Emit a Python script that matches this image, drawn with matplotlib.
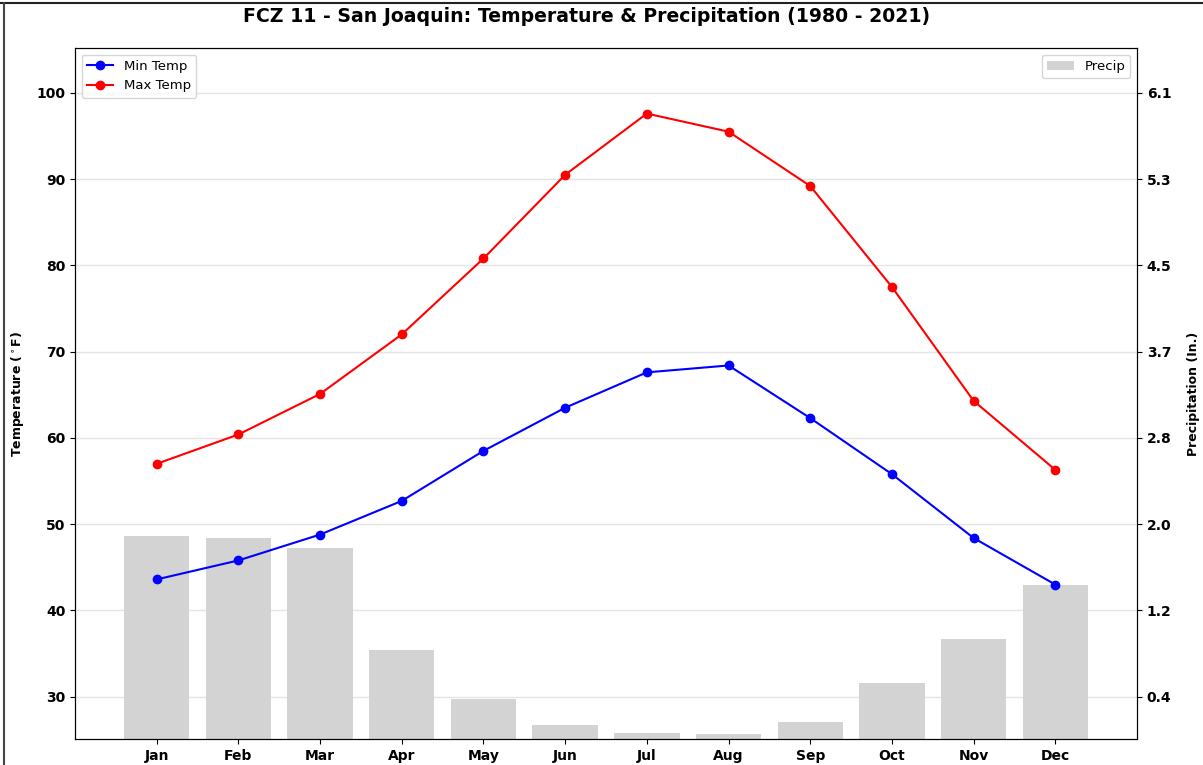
import numpy as np
import matplotlib

matplotlib.use("Agg")
import matplotlib.pyplot as plt
from matplotlib.lines import Line2D

MONTHS = ["Jan", "Feb", "Mar", "Apr", "May", "Jun", "Jul", "Aug", "Sep", "Oct", "Nov", "Dec"]
MIN_TEMP = [43.6, 45.8, 48.8, 52.7, 58.5, 63.5, 67.6, 68.4, 62.3, 55.8, 48.4, 43.0]
MAX_TEMP = [57.0, 60.4, 65.1, 72.0, 80.8, 90.5, 97.6, 95.5, 89.2, 77.5, 64.3, 56.3]
PRECIP = [1.92, 1.90, 1.80, 0.84, 0.38, 0.13, 0.06, 0.05, 0.16, 0.53, 0.94, 1.45]
TEMP_TICKS = [30, 40, 50, 60, 70, 80, 90, 100]

T_LIM = (25.1, 105.2)
P_LIM = (0, 6.525)

fig = plt.figure(figsize=(12.03, 7.65), dpi=100)
ax = fig.add_axes([75 / 1203, 1 - 739 / 765, (1137 - 75) / 1203, (739 - 48) / 765])
ax2 = ax.twinx()

x = np.arange(len(MONTHS))
ax2.bar(x, PRECIP, width=0.8, color="lightgray", label="Precip")
ax2.set_ylim(*P_LIM)

# temperature axis on top of the bars
ax.set_zorder(ax2.get_zorder() + 1)
ax.patch.set_visible(False)
ax.plot(x, MIN_TEMP, "-o", color="blue", lw=1.5, ms=6, label="Min Temp")
ax.plot(x, MAX_TEMP, "-o", color="red", lw=1.5, ms=6, label="Max Temp")
ax.set_ylim(*T_LIM)
ax.set_xlim(-1, 12)
ax.set_yticks(TEMP_TICKS)
ax.grid(axis="y", color="lightgray", alpha=0.6, lw=1)
ax.set_xticks(x)
ax.set_xticklabels(MONTHS, fontweight="bold", fontsize=10)
for lab in ax.get_yticklabels():
    lab.set_fontweight("bold")
    lab.set_fontsize(10)

# right ticks line up with the temperature ticks
scale = (P_LIM[1] - P_LIM[0]) / (T_LIM[1] - T_LIM[0])
p_ticks = [(t - T_LIM[0]) * scale + P_LIM[0] for t in TEMP_TICKS]
ax2.set_yticks(p_ticks)
ax2.set_yticklabels([f"{p:.1f}" for p in p_ticks], fontweight="bold", fontsize=10)

ax.set_ylabel(r"Temperature ($^\circ$F)", fontweight="bold", fontsize=9)
ax.yaxis.set_label_coords(-0.046, 0.5)
ax2.set_ylabel("Precipitation (In.)", fontweight="bold", fontsize=9)
ax2.yaxis.set_label_coords(1.047, 0.5)

ax.legend(loc="upper left", fontsize=9.5)
ax2.legend(loc="upper right", fontsize=9.5)

fig.text(587 / 1203, 1 - 17 / 765,
         "FCZ 11 - San Joaquin: Temperature & Precipitation (1980 - 2021)",
         ha="center", va="center", fontsize=13.6, fontweight="bold")

# window frame along the top and left edges
fig.add_artist(Line2D([0, 1], [1 - 3 / 765] * 2, color="#222222", lw=1.5, transform=fig.transFigure))
fig.add_artist(Line2D([4 / 1203] * 2, [0, 1 - 3 / 765], color="#444444", lw=1.5, transform=fig.transFigure))

fig.savefig("out.png", dpi=100)
